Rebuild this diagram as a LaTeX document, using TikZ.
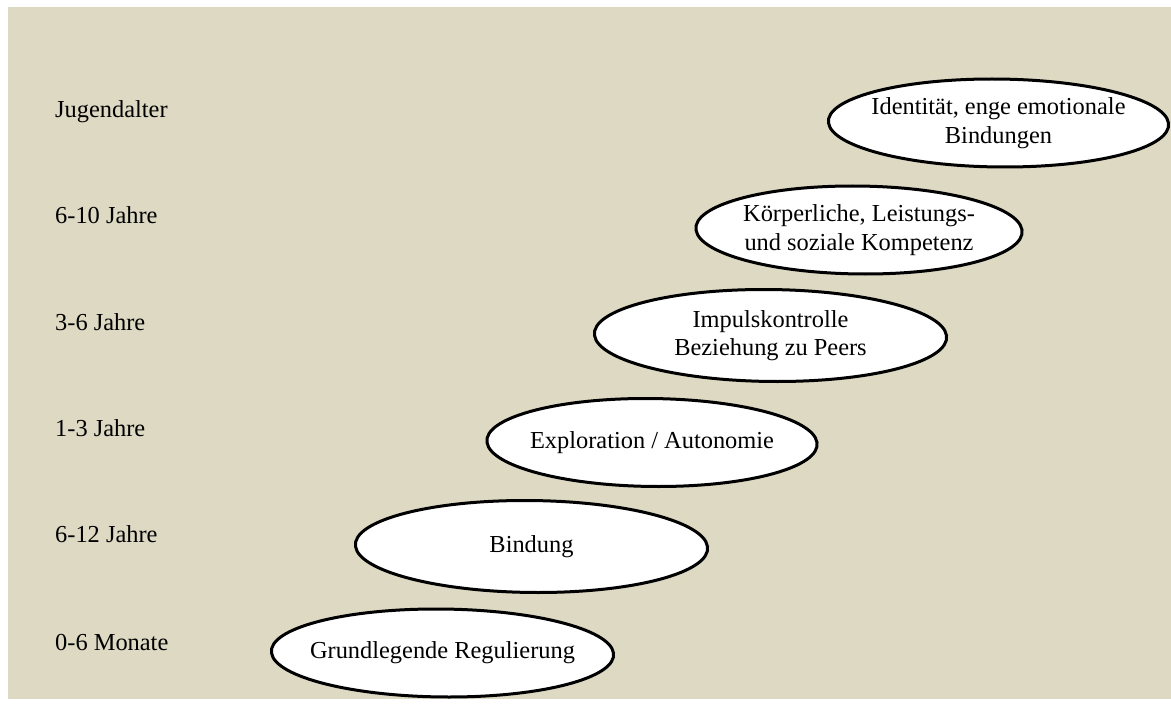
\documentclass[tikz,border=0pt]{standalone}
\usepackage{fontspec}
\setmainfont{Liberation Serif}
\definecolor{tanbg}{HTML}{DDD9C3}
% one stage: a slightly slanted white ellipse with its centred caption
\newcommand\stageellipse[6]{%
  \draw[stagering, shift={(#2,#3)}, xslant=-0.15] (0,0) ellipse [x radius=#4pt, y radius=#5pt];
  \node[stagetext] (#1) at (#2,#3) {#6};}
\begin{document}
\begin{tikzpicture}[x=1pt,y=-1pt,
  agelabel/.style={anchor=base west, inner sep=0pt, font=\fontsize{24.4}{28}\selectfont},
  stagetext/.style={align=center, inner sep=0pt, font=\fontsize{24.4}{28.5}\selectfont},
  stagering/.style={draw=black, fill=white, line width=3pt}]
\useasboundingbox (0,0) rectangle (1171,706);
\fill[white] (0,0) rectangle (1171,706);
\fill[tanbg] (8,7) rectangle (1171,699);

% age column
\node[agelabel] (a6) at (55,118) {Jugendalter};
\node[agelabel] (a5) at (55,223) {6-10 Jahre};
\node[agelabel] (a4) at (55,330) {3-6 Jahre};
\node[agelabel] (a3) at (55,436) {1-3 Jahre};
\node[agelabel] (a2) at (55,542) {6-12 Jahre};
\node[agelabel] (a1) at (55,650) {0-6 Monate};

% developmental tasks, rising stepwise
\stageellipse{s1}{442.5}{653}{171}{44}{Grundlegende Regulierung}
\stageellipse{s2}{531.5}{546.5}{176}{46}{Bindung}
\stageellipse{s3}{652}{442.5}{165}{44}{Exploration / Autonomie}
\stageellipse{s4}{770.5}{335.5}{176}{46}{Impulskontrolle\\Beziehung zu Peers}
\stageellipse{s5}{859}{230}{163}{44}{Körperliche, Leistungs-\\und soziale Kompetenz}
\stageellipse{s6}{998.5}{123}{170}{44}{Identität, enge emotionale\\Bindungen}
\end{tikzpicture}
\end{document}
